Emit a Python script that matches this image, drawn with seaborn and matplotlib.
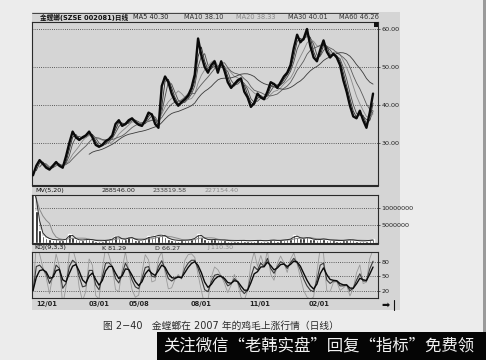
import numpy as np
import pandas as pd
import matplotlib
matplotlib.use("Agg")
import matplotlib.pyplot as plt
import seaborn as sns
from matplotlib.patches import Rectangle
from matplotlib.ticker import FuncFormatter

# ---------------- data (sampled about every 3 trading days) ----------------
close = [21.5, 24.0, 25.5, 24.5, 23.5, 23.0, 24.0, 25.0, 24.0, 23.5,
         26.5, 30.0, 33.0, 31.5, 30.8, 31.5, 32.0, 33.0, 31.5, 29.5,
         29.0, 29.5, 30.5, 31.0, 32.0, 35.0, 36.0, 34.5, 35.0, 36.0,
         36.5, 35.5, 34.8, 34.5, 36.0, 38.0, 37.5, 35.0, 34.0, 45.0,
         47.5, 46.0, 43.0, 41.0, 39.8, 40.8, 41.5, 42.5, 44.5, 48.0,
         57.5, 53.0, 50.0, 48.5, 50.5, 51.5, 48.5, 51.5, 49.0, 46.0,
         44.5, 45.5, 46.5, 47.0, 43.5, 42.0, 39.5, 40.5, 43.0, 42.0,
         41.5, 43.5, 46.0, 45.5, 44.5, 46.0, 47.5, 48.5, 50.5, 55.0,
         58.5, 56.5, 57.5, 60.0, 55.5, 52.5, 51.5, 54.5, 57.0, 54.0,
         52.5, 53.5, 52.5, 50.5, 46.5, 43.5, 39.8, 37.0, 36.5, 38.5,
         36.0, 34.0, 38.0, 43.0]

volume_m = [16, 9, 3.5, 2.0, 1.4, 1.0, 0.8, 0.9, 0.7, 0.8,
            1.2, 2.6, 1.5, 0.9, 0.7, 0.8, 0.9, 1.0, 0.7, 0.6,
            0.5, 0.6, 0.7, 0.8, 1.2, 2.0, 1.3, 0.9, 1.0, 1.7,
            1.2, 0.8, 0.7, 0.8, 1.1, 1.8, 1.4, 2.2, 1.9, 2.4,
            1.6, 1.1, 0.8, 0.7, 0.6, 0.7, 0.7, 0.8, 1.0, 1.4,
            2.5, 1.6, 1.0, 0.8, 0.9, 0.9, 0.7, 0.8, 0.7, 0.6,
            0.5, 0.6, 0.6, 0.7, 0.6, 0.5, 0.6, 0.6, 0.7, 0.6,
            0.5, 0.6, 0.8, 0.7, 0.6, 0.7, 0.8, 0.9, 1.1, 2.1,
            1.6, 1.2, 1.3, 1.5, 1.1, 0.9, 0.8, 1.0, 1.1, 0.8,
            0.7, 0.7, 0.6, 0.6, 0.7, 0.8, 0.9, 0.7, 0.6, 0.5,
            0.5, 0.6, 0.7, 0.9]

k_vals = [20, 70, 73, 65, 55, 35, 49, 73, 66, 25,
          35, 70, 83, 77, 49, 28, 30, 62, 62, 32,
          22, 49, 77, 78, 70, 45, 36, 55, 77, 63,
          42, 28, 24, 45, 68, 70, 50, 48, 70, 82,
          65, 45, 40, 45, 50, 46, 66, 77, 83, 83,
          66, 45, 22, 18, 38, 52, 54, 50, 42, 30,
          34, 45, 38, 22, 14, 21, 49, 70, 63, 77,
          70, 87, 66, 56, 70, 80, 76, 66, 78, 87,
          78, 63, 44, 30, 21, 18, 42, 73, 77, 42,
          35, 40, 40, 30, 30, 32, 20, 25, 42, 55,
          40, 40, 65, 81]

date_labels = ["12/01", "03/01", "05/08", "08/01", "11/01", "02/01"]
date_pos = [0.9, 16.7, 29.1, 47.6, 65.5, 83.6]

price_ticks = [30, 40, 50, 60]
vol_ticks = [5, 10]
kdj_ticks = [20, 50, 80]

ma_windows = {"MA5": 2, "MA10": 3, "MA20": 6, "MA30": 9, "MA60": 18}
ma_colors = {"MA5": "#2a2a2a", "MA10": "#4a4a4a", "MA20": "#8a8a8a",
             "MA30": "#5a5a5a", "MA60": "#3a3a3a"}

title_items = [("金螳螂(SZSE 002081)日线", 40, "#111111"),
               ("MA5 40.30", 133, "#222222"),
               ("MA10 38.10", 184, "#333333"),
               ("MA20 38.33", 236, "#8a8a8a"),
               ("MA30 40.01", 288, "#333333"),
               ("MA60 46.26", 339, "#333333")]
vol_items = [("MV(5,20)", 35, "#111111"), ("288546.00", 102, "#222222"),
             ("233819.58", 153, "#444444"), ("227154.40", 205, "#8a8a8a")]
kdj_items = [("KDJ(9,3,3)", 34, "#111111"), ("K 81.29", 102, "#222222"),
             ("D 66.27", 155, "#333333"), ("J 110.30", 207, "#8a8a8a")]

caption = "图 2−40   金螳螂在 2007 年的鸡毛上涨行情（日线）"
watermark = "关注微信“老韩实盘”回复“指标”免费领"

# ---------------- derived frame ----------------
idx = np.arange(len(close))
df = pd.DataFrame({"i": idx, "close": close, "vol": volume_m, "K": k_vals})
for name, w in ma_windows.items():
    df[name] = df["close"].rolling(w, min_periods=w).mean()
df["MV5"] = df["vol"].rolling(2, min_periods=1).mean()
df["MV20"] = df["vol"].rolling(6, min_periods=1).mean()
df["D"] = df["K"].ewm(alpha=0.55, adjust=False).mean()
df["J"] = 3 * df["K"] - 2 * df["D"]

# ---------------- figure ----------------
sns.set_theme(style="white")
plt.rcParams["font.family"] = ["DejaVu Sans", "Noto Sans CJK SC"]

W, H = 486, 360
fig = plt.figure(figsize=(W / 100, H / 100), dpi=100)
fig.patch.set_facecolor("#ececec")

def fx(px):
    return px / W

def fy(py):
    return 1 - py / H

panel_bg = "#d5d5d5"
# gray chart area (behind axes)
fig.patches.append(Rectangle((fx(32), fy(310)), fx(400) - fx(32), fy(12) - fy(310),
                             transform=fig.transFigure, facecolor=panel_bg,
                             edgecolor="none", zorder=-5))

left, right = 32, 378
ax_p = fig.add_axes([fx(left), fy(185), fx(right) - fx(left), fy(22) - fy(185)])
ax_v = fig.add_axes([fx(left), fy(243), fx(right) - fx(left), fy(195) - fy(243)])
ax_k = fig.add_axes([fx(left), fy(298), fx(right) - fx(left), fy(252) - fy(298)])

xlim = (-0.3, 104.5)
dot = (0, (1, 1.6))

for ax in (ax_p, ax_v, ax_k):
    ax.set_facecolor(panel_bg)
    ax.set_xlim(*xlim)
    for s in ax.spines.values():
        s.set_color("#2a2a2a")
        s.set_linewidth(0.8)
    ax.yaxis.tick_right()
    ax.tick_params(axis="y", labelsize=4.6, length=1.5, width=0.5, pad=1,
                   colors="#222222")

# price panel
ax_p.set_ylim(18.95, 61.84)
for t in price_ticks:
    ax_p.axhline(t, color="#333333", lw=0.6, ls=dot, zorder=1)
for name in ma_windows:
    sns.lineplot(data=df, x="i", y=name, ax=ax_p, color=ma_colors[name],
                 lw=0.6, legend=False, zorder=2)
sns.lineplot(data=df, x="i", y="close", ax=ax_p, color="#0a0a0a", lw=1.7,
             legend=False, zorder=3)
ax_p.set_xlim(*xlim)
ax_p.set_yticks(price_ticks)
ax_p.yaxis.set_major_formatter(FuncFormatter(lambda v, p: f"{v:.2f}"))
ax_p.set_xticks([])
ax_p.set_xlabel("")
ax_p.set_ylabel("")

# volume panel
ax_v.set_ylim(-0.1, 13.6)
for t in vol_ticks:
    ax_v.axhline(t, color="#333333", lw=0.6, ls=dot, zorder=1)
sns.barplot(data=df, x="i", y="vol", ax=ax_v, native_scale=True,
            color="#111111", width=0.75, saturation=1, zorder=2)
sns.lineplot(data=df, x="i", y="MV20", ax=ax_v, color="#8a8a8a", lw=0.7,
             legend=False, zorder=3)
sns.lineplot(data=df, x="i", y="MV5", ax=ax_v, color="#2a2a2a", lw=0.7,
             legend=False, zorder=3)
ax_v.set_xlim(*xlim)
ax_v.set_ylim(-0.1, 13.6)
ax_v.set_yticks(vol_ticks)
ax_v.yaxis.set_major_formatter(FuncFormatter(lambda v, p: f"{int(round(v * 1e6))}"))
ax_v.set_xticks([])
ax_v.set_xlabel("")
ax_v.set_ylabel("")

# KDJ panel
ax_k.set_ylim(4.9, 100.1)
for t in kdj_ticks:
    ax_k.axhline(t, color="#333333", lw=0.6, ls=dot, zorder=1)
sns.lineplot(data=df, x="i", y="J", ax=ax_k, color="#9a9a9a", lw=0.6,
             legend=False, zorder=2)
sns.lineplot(data=df, x="i", y="K", ax=ax_k, color="#3a3a3a", lw=0.8,
             legend=False, zorder=3)
sns.lineplot(data=df, x="i", y="D", ax=ax_k, color="#0a0a0a", lw=1.0,
             legend=False, zorder=4)
ax_k.set_xlim(*xlim)
ax_k.set_ylim(4.9, 100.1)
ax_k.set_yticks(kdj_ticks)
ax_k.set_xticks(date_pos)
ax_k.set_xticklabels(date_labels, ha="left", fontsize=4.8, fontweight="bold",
                     color="#222222")
ax_k.tick_params(axis="x", length=0, pad=2.5)
ax_k.set_xlabel("")
ax_k.set_ylabel("")

# header rows
def hline(py, lw=0.8):
    fig.add_artist(plt.Line2D([fx(32), fx(378)], [fy(py), fy(py)],
                              transform=fig.transFigure, color="#2a2a2a", lw=lw))

hline(12.5, 0.6)
hline(186, 0.8)
hline(244, 0.8)

for txt, px, col in title_items:
    fig.text(fx(px), fy(17), txt, fontsize=4.8, color=col, va="center",
             ha="left", fontweight="bold" if px == 40 else "normal")
for txt, px, col in vol_items:
    fig.text(fx(px), fy(190.5), txt, fontsize=4.6, color=col, va="center", ha="left")
for txt, px, col in kdj_items:
    fig.text(fx(px), fy(248), txt, fontsize=4.6, color=col, va="center", ha="left")

# small black square at top-right of price panel
fig.patches.append(Rectangle((fx(373.5), fy(27)), fx(4.5), fy(22) - fy(27),
                             transform=fig.transFigure, facecolor="#111111",
                             edgecolor="none", zorder=5))

# arrow at bottom right
fig.text(fx(381), fy(305), "➡", fontsize=7, color="#111111", va="center", ha="left")
fig.add_artist(plt.Line2D([fx(394), fx(394)], [fy(300), fy(310)],
                          transform=fig.transFigure, color="#111111", lw=0.8))

# caption
fig.text(fx(103), fy(326), caption, fontsize=7.0, color="#2a2a2a", va="center",
         ha="left", family=["DejaVu Sans", "Noto Sans CJK SC"])

# watermark bar
fig.patches.append(Rectangle((fx(157), 0), 1 - fx(157), fy(332),
                             transform=fig.transFigure, facecolor="#050505",
                             edgecolor="none", zorder=5))
fig.text(fx(163), fy(346), watermark, fontsize=11.8, color="#f2f2f2",
         va="center", ha="left", zorder=6,
         family=["Noto Sans CJK SC", "DejaVu Sans"])

# right page edge
fig.patches.append(Rectangle((fx(483), fy(332)), fx(3), fy(0) - fy(332),
                             transform=fig.transFigure, facecolor="#9a9a9a",
                             edgecolor="none", zorder=-4))

fig.savefig("out.png", dpi=100, facecolor=fig.get_facecolor())
